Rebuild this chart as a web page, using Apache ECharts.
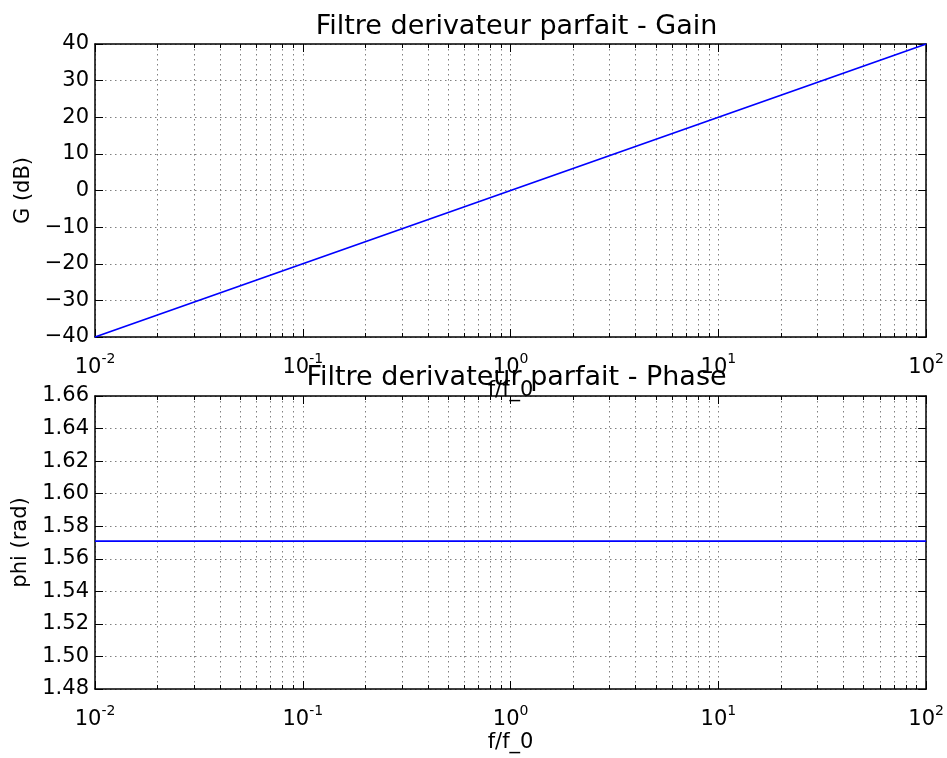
<!DOCTYPE html>
<html>
<head>
<meta charset="utf-8">
<script src="https://cdn.jsdelivr.net/npm/echarts@6/dist/echarts.min.js"></script>
<style>
html,body{margin:0;padding:0;background:#fff;}
#chart{width:947px;height:758px;}
</style>
</head>
<body>
<div id="chart"></div>
<script>
// ---- data ----
const freq = [0.01, 0.1, 1, 10, 100];
const gainDb = [-40, -20, 0, 20, 40];
const phaseRad = [1.5708, 1.5708, 1.5708, 1.5708, 1.5708];
// ---- axis structure ----
const xDecades = [0.01, 0.1, 1, 10];
const xMinorMult = [2, 3, 4, 5, 6, 7, 8, 9];
const xMinorTicks = [];
xDecades.forEach(d => xMinorMult.forEach(m => xMinorTicks.push(+(d * m).toPrecision(6))));
const titles = ['Filtre derivateur parfait - Gain', 'Filtre derivateur parfait - Phase'];
const yNames = ['G (dB)', 'phi (rad)'];
const xName = 'f/f_0';

const FONT = 'DejaVu Sans';
const FS = 21;
const gridColor = '#808080';
const grids = [
  {left: 95, right: 19, top: 44, height: 293},
  {left: 95, right: 19, top: 396, height: 293}
];

function xAxes(gi) {
  const base = {type: 'log', logBase: 10, min: 0.01, max: 100, gridIndex: gi};
  return [
    Object.assign({}, base, {
      position: 'bottom',
      name: xName, nameLocation: 'middle', nameGap: 43,
      nameTextStyle: {fontFamily: FONT, fontSize: FS, color: '#000'},
      axisLine: {show: true, onZero: false, lineStyle: {color: '#000', width: 1.5}},
      axisTick: {show: true, inside: true, length: 8, lineStyle: {color: '#000', width: 1}},
      axisLabel: {
        margin: 15,
        formatter: v => '{b|10}{s|' + Math.round(Math.log10(v)) + '}',
        rich: {
          b: {fontFamily: FONT, fontSize: FS, color: '#000', verticalAlign: 'bottom'},
          s: {fontFamily: FONT, fontSize: 14, color: '#000', verticalAlign: 'top', padding: [0, 0, 12, 0]}
        }
      },
      splitLine: {show: true, lineStyle: {color: gridColor, width: 1, type: [1.5, 3.5]}}
    }),
    Object.assign({}, base, {
      position: 'top',
      axisLine: {show: true, onZero: false, lineStyle: {color: '#000', width: 1.5}},
      axisTick: {show: true, inside: true, length: 8, lineStyle: {color: '#000', width: 1}},
      axisLabel: {show: false},
      splitLine: {show: false}
    }),
    Object.assign({}, base, {
      position: 'bottom',
      axisLine: {show: false, onZero: false},
      axisTick: {show: true, inside: true, length: 4, customValues: xMinorTicks, lineStyle: {color: '#000', width: 1}},
      axisLabel: {show: false},
      splitLine: {show: true, lineStyle: {color: gridColor, width: 1, type: [1.5, 3.5]}}
    }),
    Object.assign({}, base, {
      position: 'top',
      axisLine: {show: false, onZero: false},
      axisTick: {show: true, inside: true, length: 4, customValues: xMinorTicks, lineStyle: {color: '#000', width: 1}},
      axisLabel: {show: false},
      splitLine: {show: false}
    })
  ];
}

function yAxes(gi, min, max, interval, fmt, name) {
  const base = {type: 'value', min: min, max: max, interval: interval, gridIndex: gi};
  return [
    Object.assign({}, base, {
      position: 'left',
      name: name, nameLocation: 'middle', nameGap: 60,
      nameTextStyle: {fontFamily: FONT, fontSize: FS, color: '#000'},
      axisLine: {show: true, onZero: false, lineStyle: {color: '#000', width: 1.5}},
      axisTick: {show: true, inside: true, length: 8, lineStyle: {color: '#000', width: 1}},
      axisLabel: {margin: 6, fontFamily: FONT, fontSize: FS, color: '#000', formatter: fmt},
      splitLine: {show: true, lineStyle: {color: gridColor, width: 1, type: [1.5, 3.5]}}
    }),
    Object.assign({}, base, {
      position: 'right',
      axisLine: {show: true, onZero: false, lineStyle: {color: '#000', width: 1.5}},
      axisTick: {show: true, inside: true, length: 8, lineStyle: {color: '#000', width: 1}},
      axisLabel: {show: false},
      splitLine: {show: false}
    })
  ];
}

const chart = echarts.init(document.getElementById('chart'), null, {renderer: 'canvas'});
const plotCenter = 95 + (947 - 19 - 95) / 2;
chart.setOption({
  animation: false,
  backgroundColor: '#fff',
  title: [
    {text: titles[0], left: plotCenter, top: 8, textAlign: 'center',
     textStyle: {fontFamily: FONT, fontSize: 27, fontWeight: 'normal', color: '#000'}},
    {text: titles[1], left: plotCenter, top: 359, textAlign: 'center',
     textStyle: {fontFamily: FONT, fontSize: 27, fontWeight: 'normal', color: '#000'}}
  ],
  grid: grids,
  xAxis: xAxes(0).concat(xAxes(1)),
  yAxis: yAxes(0, -40, 40, 10, v => (v < 0 ? '\u2212' + Math.abs(v) : String(v)), yNames[0])
    .concat(yAxes(1, 1.48, 1.66, 0.02, v => v.toFixed(2), yNames[1])),
  series: [
    {type: 'line', xAxisIndex: 0, yAxisIndex: 0, showSymbol: false, symbol: 'none',
     data: freq.map((f, i) => [f, gainDb[i]]), lineStyle: {color: '#0000ff', width: 1.8}, z: 5},
    {type: 'line', xAxisIndex: 4, yAxisIndex: 2, showSymbol: false, symbol: 'none',
     data: freq.map((f, i) => [f, phaseRad[i]]), lineStyle: {color: '#0000ff', width: 1.8}, z: 5}
  ]
});
</script>
</body>
</html>
